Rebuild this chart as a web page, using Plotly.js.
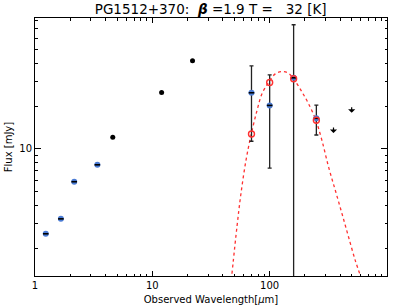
<!DOCTYPE html>
<html>
<head>
<meta charset="utf-8">
<script src="https://cdn.plot.ly/plotly-3.0.1.min.js"></script>
<style>html,body{margin:0;padding:0;background:#fff;}#chart{width:399px;height:308px;}</style>
</head>
<body>
<div id="chart"></div>
<script>
// Near-IR (2MASS + WISE1) photometry, blue symbols
const nirWave = [1.235, 1.662, 2.159, 3.4];
const nirFlux = [2.52, 3.21, 5.86, 7.71];
// Mid-IR photometry, black symbols
const midWave = [4.6, 12, 22];
const midFlux = [12.07, 24.9, 41.7];
// Far-IR photometry with errors
const firWave = [70, 100, 160, 250];
const firFlux = [24.8, 20.2, 31.6, 16.4];
const firErr = [13.5, 12.9, 43.1, 3.9];
// Model values at the far-IR wavelengths
const modelFlux = [12.7, 29.3, 31.1, 15.9];
// Upper limits
const limWave = [350, 500];
const limFlux = [14.1, 19.6];
// Greybody model curve
const curveWave = [47.7, 52.6, 56.9, 62.8, 69.7, 78.0, 86.0, 97.9, 111.6, 127.4, 145, 160, 188.6, 214.8, 248.4, 279.3, 318, 363, 414, 471, 537, 593];
const curveFlux = [1.318, 2.81, 4.82, 8.27, 12.7, 18.6, 24.4, 29.3, 33.7, 35.0, 34.0, 31.1, 25.1, 20.7, 15.8, 11.4, 7.42, 5.08, 3.48, 2.38, 1.63, 1.28];
// Tick values
const xMajor = [1, 10, 100, 1000];
const xMajorText = ['1', '10', '100', '1000'];
const xMinor = [2,3,4,5,6,7,8,9,20,30,40,50,60,70,80,90,200,300,400,500,600,700,800,900];
const yMajor = [10];
const yMajorText = ['10'];
const yMinor = [2,3,4,5,6,7,8,9,20,30,40,50,60,70,80];

const blue = '#4a7bd4';
const red = '#ff3030';
const allBlueWave = nirWave.concat(firWave);
const allBlueFlux = nirFlux.concat(firFlux);

const traces = [
  {x: curveWave, y: curveFlux, mode: 'lines', line: {color: red, width: 1.3, dash: 'dot', shape: 'spline'}, hoverinfo: 'skip'},
  {x: firWave, y: firFlux, mode: 'markers', marker: {size: 1, color: '#222'},
   error_y: {type: 'data', array: firErr, visible: true, color: '#222', thickness: 1.3, width: 2}},
  {x: allBlueWave, y: allBlueFlux, mode: 'markers', marker: {symbol: 'circle', size: 6, color: blue}},
  {x: allBlueWave, y: allBlueFlux, mode: 'markers', marker: {symbol: 'line-ew-open', size: 4, color: '#000', line: {color: '#000', width: 1.6}}},
  {x: midWave, y: midFlux, mode: 'markers', marker: {symbol: 'circle', size: 5, color: '#000'}},
  {x: firWave, y: modelFlux, mode: 'markers', marker: {symbol: 'circle-open', size: 6, color: red, line: {color: red, width: 1.4}}}
];

const annotations = limWave.map((w, i) => ({
  x: Math.log10(w), y: Math.log10(limFlux[i]), xref: 'x', yref: 'y',
  text: '', showarrow: true, ax: 0, ay: 7, arrowside: 'start',
  arrowhead: 1, arrowsize: 0.6, arrowwidth: 1.2, arrowcolor: '#000', standoff: 0, startstandoff: 0
}));

const axisFont = {family: 'DejaVu Sans, sans-serif', size: 10, color: '#000'};
const layout = {
  width: 399, height: 308,
  margin: {l: 35, r: 12, t: 18, b: 32},
  paper_bgcolor: '#fff', plot_bgcolor: '#fff',
  showlegend: false,
  font: axisFont,
  title: {text: 'PG1512+370:\u00A0\u00A0<b><i>β</i></b> =1.9 T =\u00A0\u00A0\u00A032 [K]', x: 0.528, xanchor: 'center', y: 0.97, yanchor: 'middle', font: {family: 'DejaVu Sans, sans-serif', size: 13.5, color: '#000'}},
  xaxis: {
    type: 'log', range: [0, 3], showgrid: false, zeroline: false,
    showline: true, linecolor: '#000', linewidth: 1, mirror: 'ticks',
    ticks: 'inside', ticklen: 5, tickcolor: '#000', tickwidth: 1,
    tickmode: 'array', tickvals: xMajor, ticktext: xMajorText, tickfont: axisFont,
    minor: {tickmode: 'array', tickvals: xMinor, ticks: 'inside', ticklen: 2.5, tickcolor: '#000', tickwidth: 1, showgrid: false},
    title: {text: 'Observed Wavelength[<i>µ</i>m]', font: axisFont, standoff: 5}
  },
  yaxis: {
    type: 'log', range: [0.104, 1.921], showgrid: false, zeroline: false,
    showline: true, linecolor: '#000', linewidth: 1, mirror: 'ticks',
    ticks: 'inside', ticklen: 6, tickcolor: '#000', tickwidth: 1,
    tickmode: 'array', tickvals: yMajor, ticktext: yMajorText, tickfont: axisFont,
    minor: {tickmode: 'array', tickvals: yMinor, ticks: 'inside', ticklen: 2.5, tickcolor: '#000', tickwidth: 1, showgrid: false},
    title: {text: 'Flux [mJy]', font: axisFont, standoff: 4}
  },
  annotations: annotations
};

Plotly.newPlot('chart', traces, layout, {displayModeBar: false, staticPlot: true});
</script>
</body>
</html>
